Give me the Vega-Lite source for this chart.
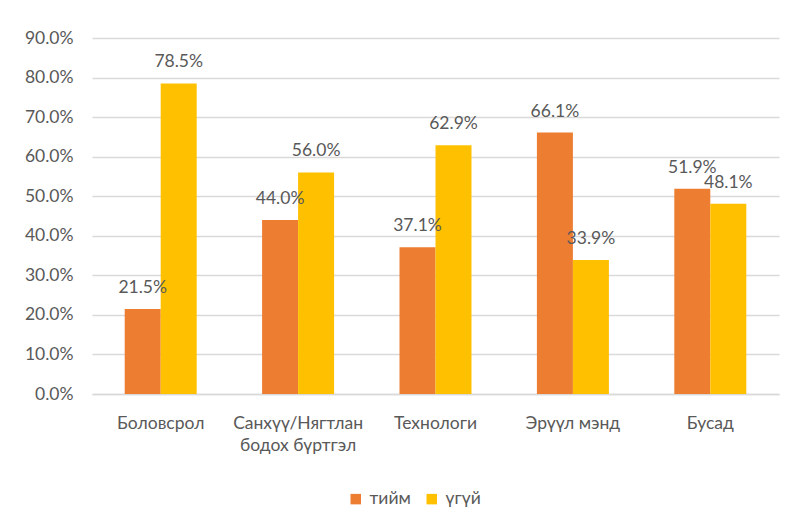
{
  "$schema": "https://vega.github.io/schema/vega-lite/v6.json",
  "width": 687,
  "height": 356,
  "autosize": {"type": "none"},
  "padding": {"left": 92, "top": 38, "right": 12, "bottom": 130},
  "background": "white",
  "config": {
    "view": {"stroke": null},
    "font": "Lato",
    "text": {"font": "Lato"}
  },
  "data": {
    "values": [
      {"category": "Боловсрол", "series": "тийм", "value": 0.215},
      {"category": "Боловсрол", "series": "үгүй", "value": 0.785},
      {"category": "Санхүү/Нягтлан бодох бүртгэл", "series": "тийм", "value": 0.44},
      {"category": "Санхүү/Нягтлан бодох бүртгэл", "series": "үгүй", "value": 0.56},
      {"category": "Технологи", "series": "тийм", "value": 0.371},
      {"category": "Технологи", "series": "үгүй", "value": 0.629},
      {"category": "Эрүүл мэнд", "series": "тийм", "value": 0.661},
      {"category": "Эрүүл мэнд", "series": "үгүй", "value": 0.339},
      {"category": "Бусад", "series": "тийм", "value": 0.519},
      {"category": "Бусад", "series": "үгүй", "value": 0.481}
    ]
  },
  "encoding": {
    "x": {
      "field": "category",
      "type": "nominal",
      "sort": null,
      "scale": {"paddingInner": 0.476, "paddingOuter": 0.238},
      "axis": {
        "title": null,
        "labelAngle": 0,
        "labelFont": "Lato",
        "labelFontSize": 17.5,
        "labelColor": "#595959",
        "labelPadding": 20,
        "labelBaseline": "top",
        "labelLineHeight": 22,
        "labelExpr": "datum.label == 'Санхүү/Нягтлан бодох бүртгэл' ? ['Санхүү/Нягтлан', 'бодох бүртгэл'] : datum.label",
        "ticks": false,
        "domainColor": "#D9D9D9",
        "domainWidth": 1.5,
        "grid": false
      }
    },
    "xOffset": {
      "field": "series",
      "type": "nominal",
      "sort": ["тийм", "үгүй"],
      "scale": {"paddingInner": 0, "paddingOuter": 0}
    },
    "y": {
      "field": "value",
      "type": "quantitative",
      "scale": {"domain": [0, 0.9], "nice": false},
      "axis": {
        "title": null,
        "format": ".1%",
        "values": [0, 0.1, 0.2, 0.3, 0.4, 0.5, 0.6, 0.7, 0.8, 0.9],
        "labelFont": "Lato",
        "labelFontSize": 17.5,
        "labelColor": "#595959",
        "labelPadding": 19,
        "ticks": false,
        "domain": false,
        "gridColor": "#D9D9D9",
        "gridWidth": 1.5
      }
    }
  },
  "layer": [
    {
      "mark": {"type": "bar"},
      "encoding": {
        "color": {
          "field": "series",
          "type": "nominal",
          "sort": ["тийм", "үгүй"],
          "scale": {"domain": ["тийм", "үгүй"], "range": ["#ED7D31", "#FFC000"]},
          "legend": {
            "title": null,
            "orient": "none",
            "direction": "horizontal",
            "legendX": 255,
            "legendY": 452,
            "symbolType": "square",
            "symbolSize": 110,
            "symbolStrokeWidth": 0,
            "labelFont": "Lato",
            "labelFontSize": 17.5,
            "labelColor": "#595959",
            "labelOffset": 5,
            "columnPadding": 12
          }
        }
      }
    },
    {
      "mark": {
        "type": "text",
        "baseline": "alphabetic",
        "dy": -16,
        "fontSize": 17.5,
        "color": "#595959",
        "font": "Lato"
      },
      "encoding": {
        "text": {"field": "value", "type": "quantitative", "format": ".1%"}
      }
    }
  ]
}
